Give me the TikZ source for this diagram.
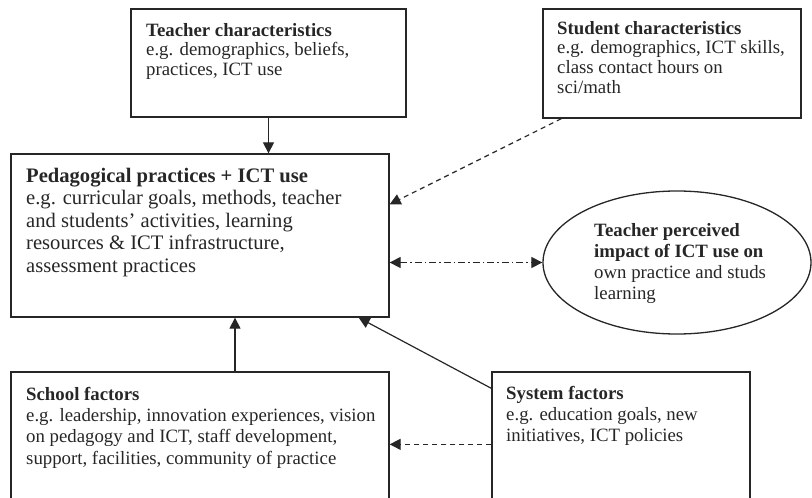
\documentclass[tikz,border=0pt]{standalone}
\usepackage{fontspec}
\setmainfont{Liberation Serif}
\usetikzlibrary{calc,arrows.meta,shapes.geometric}
\tikzset{
  box/.style={draw=black!85, line width=1.3pt, inner sep=0pt},
  txt/.style={anchor=north west, align=left, inner sep=0pt, text=black!85},
  smalltxt/.style={txt, font=\fontsize{18.8}{19.6}\selectfont},
  midtxt/.style={txt, font=\fontsize{18.8}{21.2}\selectfont},
  bigtxt/.style={txt, font=\fontsize{20.6}{22.4}\selectfont},
  tip/.style={-{Triangle[length=11pt,width=11pt]}},
  arr/.style={line width=1.2pt, black!85, tip},
  darr/.style={arr, dash pattern=on 5pt off 4pt},
  ddarr/.style={line width=1.2pt, black!85, {Triangle[length=11pt,width=11pt]}-{Triangle[length=11pt,width=11pt]}, dash pattern=on 7pt off 3pt on 1.5pt off 3pt}
}
\begin{document}
\begin{tikzpicture}[x=1pt,y=-1pt]
\useasboundingbox (0,0) rectangle (812,498);
\clip (0,0) rectangle (812,498);
% boxes
\node[box, minimum width=275, minimum height=108] (teacher) at (268.5,63) {};
\node[box, minimum width=258, minimum height=109] (student) at (672,63.5) {};
\node[box, minimum width=378, minimum height=163] (ped) at (200,235.5) {};
\node[box, minimum width=378, minimum height=148] (school) at (200,446) {};
\node[box, minimum width=258, minimum height=148] (sys) at (621,446) {};
\node[box, ellipse, minimum width=268, minimum height=143] (ell) at (677,262.5) {};
% texts
\node[smalltxt] (teachertxt) at (146,23) {\textbf{Teacher characteristics}\\e.g. demographics, beliefs,\\practices, ICT use};
\node[smalltxt] (studenttxt) at (557,21) {\textbf{Student characteristics}\\e.g. demographics, ICT skills,\\class contact hours on\\sci/math};
\node[bigtxt] (pedtxt) at (26,168) {\textbf{Pedagogical practices + ICT use}\\e.g. curricular goals, methods, teacher\\and students' activities, learning\\resources \& ICT infrastructure,\\assessment practices};
\node[midtxt] (elltxt) at (594,223) {\textbf{Teacher perceived}\\\textbf{impact of ICT use on}\\own practice and studs\\learning};
\node[midtxt] (schooltxt) at (26,387) {\textbf{School factors}\\e.g. leadership, innovation experiences, vision\\on pedagogy and ICT, staff development,\\support, facilities, community of practice};
\node[midtxt] (systxt) at (506,386) {\textbf{System factors}\\e.g. education goals, new\\initiatives, ICT policies};
% connectors
\draw[arr] (teacher.south) -- (teacher.south |- ped.north);
\coordinate (stud1) at ($(student.south west)+(19,0)$);
\coordinate (ped1) at ($(ped.north east)+(0,51)$);
\draw[darr] (stud1) -- (ped1);
\draw[ddarr] (ped.east |- ell.west) -- (ell.west);
\coordinate (sch1) at ($(school.north)+(35,0)$);
\coordinate (ped2) at ($(ped.south)+(35,0)$);
\draw[arr] (sch1) -- (ped2);
\coordinate (sys1) at ($(sys.north west)+(0,17)$);
\coordinate (ped3) at ($(ped.south east)+(-31,0)$);
\draw[arr] (sys1) -- (ped3);
\coordinate (sys2) at ($(sys.north west)+(0,73)$);
\draw[darr] (sys2) -- (school.east |- sys2);
\end{tikzpicture}
\end{document}
